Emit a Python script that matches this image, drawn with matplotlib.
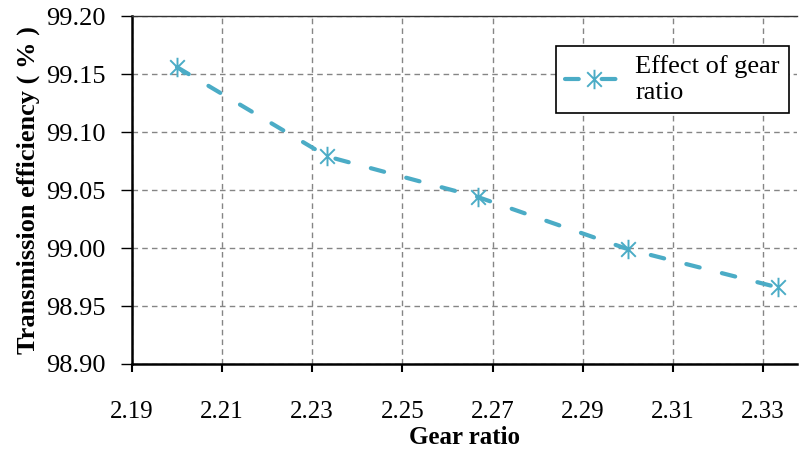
import matplotlib.pyplot as plt
from matplotlib.path import Path

# data
gear_ratio = [2.2, 2.2333, 2.2667, 2.3, 2.3333]
efficiency = [99.156, 99.079, 99.044, 98.999, 98.966]
x_ticks = [2.19, 2.21, 2.23, 2.25, 2.27, 2.29, 2.31, 2.33]
y_ticks = [98.90, 98.95, 99.00, 99.05, 99.10, 99.15, 99.20]

plt.rcParams['font.family'] = ['Liberation Serif', 'DejaVu Serif']

# excel style star: vertical stroke plus an X
star = Path([(0, -1), (0, 1), (-0.75, -0.75), (0.75, 0.75), (-0.75, 0.75), (0.75, -0.75)],
            [Path.MOVETO, Path.LINETO, Path.MOVETO, Path.LINETO, Path.MOVETO, Path.LINETO])

fig = plt.figure(figsize=(7.99, 4.53), dpi=100)
ax = fig.add_axes([0.165, 0.1965, 0.8325, 0.768])

line_col = '#4BACC6'
ax.plot(gear_ratio, efficiency, color=line_col, lw=3.0, dashes=(3.3, 5.5),
        dash_capstyle='round', marker=star, markersize=14, markeredgewidth=1.4,
        markeredgecolor=line_col, label='Effect of gear\nratio', zorder=3)

ax.set_xlim(2.19, 2.3375)
ax.set_ylim(98.90, 99.20)
ax.set_xticks(x_ticks)
ax.set_yticks(y_ticks)
ax.set_xticklabels(['%.2f' % v for v in x_ticks])
ax.set_yticklabels(['%.2f' % v for v in y_ticks])

ax.grid(True, color='#858585', linestyle=(0, (4, 3)), linewidth=1.0)
ax.set_axisbelow(True)

for s in ['left', 'bottom']:
    ax.spines[s].set_linewidth(1.8)
ax.spines['top'].set_linewidth(1.0)
ax.spines['top'].set_color('#333333')
ax.spines['right'].set_visible(False)

ax.tick_params(axis='x', direction='out', length=6, width=1.5, labelsize=18, pad=21)
ax.tick_params(axis='y', direction='out', length=8, width=1.0, labelsize=19, pad=11)

ax.set_xlabel('Gear ratio', fontsize=18, fontweight='bold', labelpad=2)
ax.set_ylabel('Transmission efficiency ( % )', fontsize=19, fontweight='bold', labelpad=4)

leg = ax.legend(loc='upper right', bbox_to_anchor=(0.988, 0.914), borderaxespad=0,
                fontsize=19, frameon=True, fancybox=False, edgecolor='black',
                framealpha=1, handlelength=2.15, labelspacing=0.15, borderpad=0.35,
                handletextpad=0.5)
leg.get_frame().set_linewidth(1.2)

plt.savefig('out.png', dpi=100)
